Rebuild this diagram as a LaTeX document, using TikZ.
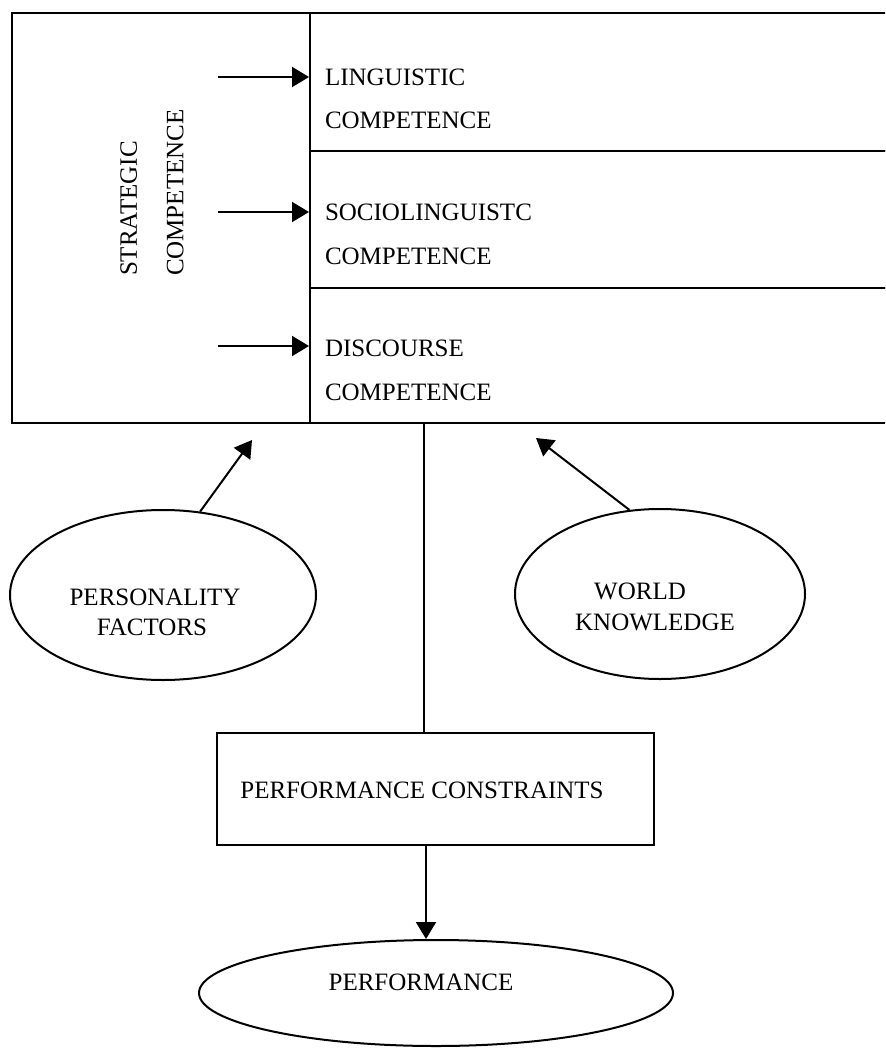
\documentclass[tikz,border=0pt]{standalone}
\usepackage{fontspec}
\setmainfont{Liberation Serif}
\usetikzlibrary{arrows.meta,shapes.geometric}
\begin{document}
\begin{tikzpicture}[x=1pt,y=-1pt, line width=2pt,
  lbl/.style={inner sep=0pt, font=\fontsize{25}{30}\selectfont, text height=16.5pt, text depth=0pt},
  cell/.style={draw, rectangle, inner sep=0pt},
  oval/.style={draw, ellipse, inner sep=0pt},
  arr/.style={-{Triangle[length=17pt,width=20pt]}}]
\useasboundingbox (0,0) rectangle (885,1048);
\clip (0,0) rectangle (885,1048);
% top block
\node[cell, minimum width=298pt, minimum height=410pt] (strat) at (161,218) {};
\node[cell, minimum width=578pt, minimum height=138pt] (ling) at (599,82) {};
\node[cell, minimum width=578pt, minimum height=137pt] (socio) at (599,219.5) {};
\node[cell, minimum width=578pt, minimum height=135pt] (disc) at (599,355.5) {};
\node[lbl, rotate=90, anchor=west] (st1) at (128.5,277) {STRATEGIC};
\node[lbl, rotate=90, anchor=west] (st2) at (175,277) {COMPETENCE};
\node[lbl, anchor=west] (l1) at (324,77) {LINGUISTIC};
\node[lbl, anchor=west] (l2) at (324,120) {COMPETENCE};
\node[lbl, anchor=west] (s1) at (324,212) {SOCIOLINGUISTC};
\node[lbl, anchor=west] (s2) at (324,256) {COMPETENCE};
\node[lbl, anchor=west] (d1) at (324,348) {DISCOURSE};
\node[lbl, anchor=west] (d2) at (324,392) {COMPETENCE};
\coordinate (a1) at (218,77);
\coordinate (a2) at (218,212);
\coordinate (a3) at (218,346);
\draw[arr] (a1) -- (a1 -| ling.west);
\draw[arr] (a2) -- (a2 -| socio.west);
\draw[arr] (a3) -- (a3 -| disc.west);
% ellipses
\node[oval, minimum width=306pt, minimum height=170pt] (pers) at (163,595) {};
\node[lbl] (p1) at (155,597) {PERSONALITY};
\node[lbl] (p2) at (152,627) {FACTORS};
\node[oval, minimum width=290pt, minimum height=170pt] (world) at (660,594) {};
\node[lbl] (w1) at (640,591) {WORLD};
\node[lbl] (w2) at (655,622) {KNOWLEDGE};
\coordinate (pt) at (252,440);
\coordinate (wt) at (536,438);
\draw[arr] (pers.66) -- (pt);
\draw[arr] (world.110) -- (wt);
% performance
\node[cell, minimum width=437pt, minimum height=112pt] (perfc) at (435.5,789) {};
\node[lbl] (pc) at (422,790) {PERFORMANCE CONSTRAINTS};
\node[oval, minimum width=474pt, minimum height=106pt] (perf) at (436,993) {};
\node[lbl] (pf) at (421,982) {PERFORMANCE};
\coordinate (v1) at (424,423);
\draw (v1) -- (v1 |- perfc.north);
\coordinate (v2) at (426,0);
\draw[arr] (v2 |- perfc.south) -- (v2 |- perf.north);
\end{tikzpicture}
\end{document}
